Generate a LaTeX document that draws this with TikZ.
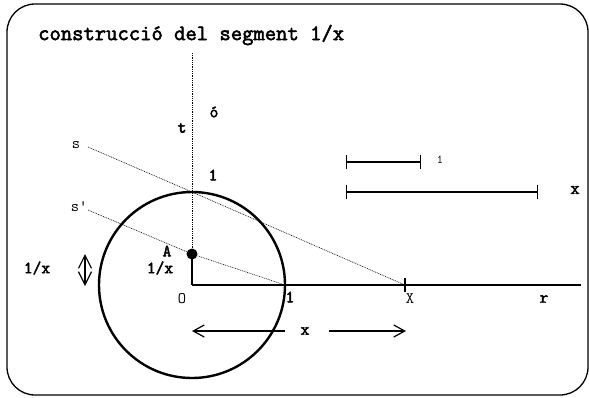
\documentclass[tikz,border=0pt]{standalone}
\usepackage{fontspec}
\setmonofont{Latin Modern Mono}[BoldFont={Latin Modern Mono}, BoldFeatures={FakeBold=2.5}]
\usetikzlibrary{arrows.meta,positioning,calc}
\tikzset{
  lbl/.style   ={font=\ttfamily\bfseries\fontsize{17bp}{19bp}\selectfont, inner sep=1pt},
  slbl/.style  ={font=\ttfamily\fontsize{16bp}{18bp}\selectfont, inner sep=1pt},
  tinylbl/.style={font=\ttfamily\fontsize{12bp}{14bp}\selectfont, inner sep=1pt},
  aux/.style   ={line width=0.6bp, dash pattern=on 0.9bp off 0.9bp},
  thickline/.style={line width=2.6bp},
  bar/.style   ={line width=1.2bp, {Bar[width=14bp]}-{Bar[width=14bp]}},
  dimarrow/.style={line width=1.2bp, -{Straight Barb[length=11bp,width=12bp]}}
}
\begin{document}
\begin{tikzpicture}[x=1bp,y=-1bp]
  \useasboundingbox (0,0) rectangle (589,397);
  \draw[line width=1.3bp, rounded corners=28bp] (7,4) rectangle (588,395);

  \node[font=\ttfamily\bfseries\fontsize{22bp}{24bp}\selectfont, anchor=west, inner sep=0pt] (title) at (38,35) {construcció del segment 1/x};

  % points of the construction
  \coordinate (O) at (192,285);
  \coordinate (U) at (192,192);
  \coordinate (one) at (285,285);
  \coordinate (X) at (405,285);
  \coordinate (A) at (192,254);
  \coordinate (ttop) at (192,53);
  \coordinate (rend) at (581,285);
  \coordinate (sstart) at (88,147);
  \coordinate (spstart) at (88,210);

  \draw[line width=2.4bp] (O) circle (93);
  \draw[aux] (ttop) -- (A);
  \draw[aux] (sstart) -- (U) -- (X);
  \draw[aux] (spstart) -- (A) -- (one);
  \draw[thickline] (O) -- (rend);
  \draw[thickline] (O) -- (A);
  \fill (A) circle (5.5);
  \draw[line width=1.8bp] ($(X)+(0,-7)$) -- ($(X)+(0,7)$);

  \node[lbl] (tlbl) at (182,128) {t};
  \node[lbl] (acute) at (214,112) {ó};
  \node[slbl] (slbl) at (76,145) {s};
  \node[lbl] (ulbl) at (213,175) {1};
  \node[slbl] (splbl) at (79,207) {s'};
  \node[lbl] (albl) at (167,251) {A};
  \node[lbl] (invA) at (160,268) {1/x};
  \node[lbl] (invL) at (37,268) {1/x};
  \node[slbl] (olbl) at (182,299) {O};
  \node[lbl] (onelbl) at (290,297) {1};
  \node[slbl] (xlbl) at (410,299) {X};
  \node[lbl] (rlbl) at (544,299) {r};

  % double arrow for 1/x
  \coordinate (dtop) at (85,254);
  \coordinate (dbot) at (85,286);
  \draw[line width=1.2bp, {Straight Barb[length=13bp,width=13bp]}-{Straight Barb[length=13bp,width=13bp]}] (dtop) -- (dbot);

  % sample lengths
  \coordinate (b1a) at (346,162);
  \coordinate (b1b) at (421,162);
  \coordinate (b2a) at (346,192);
  \coordinate (b2b) at (538,192);
  \draw[bar] (b1a) -- (b1b);
  \draw[bar] (b2a) -- (b2b);
  \node[tinylbl] (b1lbl) at (440,160) {1};
  \node[lbl, font=\ttfamily\bfseries\fontsize{18bp}{20bp}\selectfont] (b2lbl) at (575,190) {x};

  % x measured along r
  \node[lbl] (xdim) at (305,331) {x};
  \coordinate (xl) at (192,331);
  \coordinate (xr) at (406,331);
  \coordinate (xlm) at (285,331);
  \coordinate (xrm) at (329,331);
  \draw[dimarrow] (xlm) -- (xl);
  \draw[dimarrow] (xrm) -- (xr);
\end{tikzpicture}
\end{document}
